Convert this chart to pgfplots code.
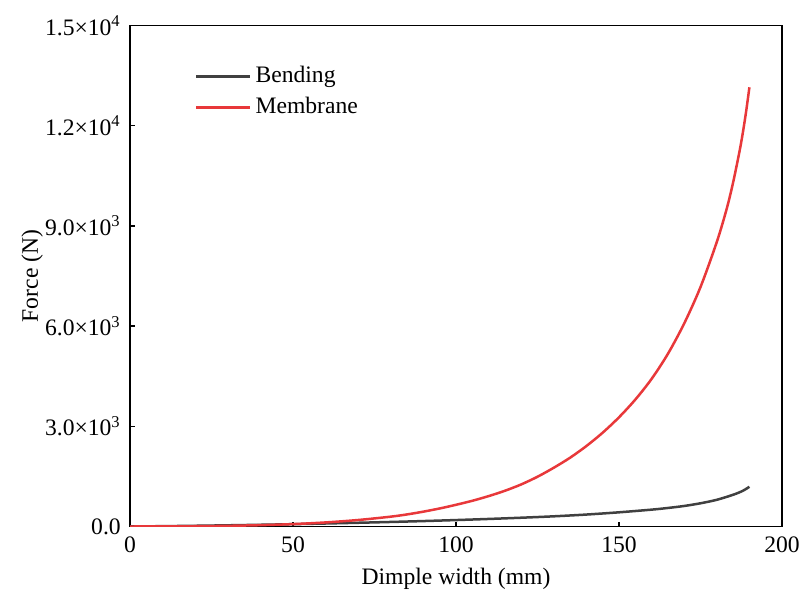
\documentclass[border=0pt]{standalone}
\usepackage{pgfplots}
\pgfplotsset{compat=1.18}
\usepackage{fontspec}
\setmainfont{Liberation Serif}
\definecolor{memred}{RGB}{232,56,58}
\definecolor{bendgray}{RGB}{64,64,64}
\begin{document}
\fontsize{11.8}{14}\selectfont
\begin{tikzpicture}
\useasboundingbox (-65pt,-33.75pt) rectangle (335.5pt,263.25pt);
\begin{axis}[
  at={(0,0)}, anchor=south west,
  scale only axis, width=326pt, height=250.5pt,
  xmin=0, xmax=200, ymin=0, ymax=15000,
  xtick={0,50,100,150,200},
  ytick={0,3000,6000,9000,12000,15000},
  yticklabels={0.0,3.0×10\textsuperscript{3},6.0×10\textsuperscript{3},9.0×10\textsuperscript{3},1.2×10\textsuperscript{4},1.5×10\textsuperscript{4}},
  scaled y ticks=false,
  tick pos=left, tick align=inside,
  major tick length=2.5pt,
  axis line style={line width=0.75pt},
  every tick/.style={line width=0.75pt,black},
  /pgf/number format/assume math mode=true,
  tick label style={font=\fontsize{11.8}{14}\selectfont},
  xticklabel style={yshift=-1pt},
  yticklabel style={xshift=-0.5pt},
  xlabel={Dimple width (mm)}, ylabel={Force (N)},
  label style={font=\fontsize{11.8}{14}\selectfont},
  xlabel style={yshift=0.5pt},
  ylabel style={yshift=-7pt},
  legend style={draw=none, fill=none, at={(rel axis cs:0.09,0.935)}, anchor=north west,
    font=\fontsize{11.8}{14}\selectfont, row sep=1.5pt,
    legend cell align=left},
  legend image code/.code={\draw[#1] (0cm,0cm) -- (27pt,0cm);},
]
\addplot[bendgray, line width=1.25pt, smooth] coordinates {
(0,0) (10,10) (20,22) (30,36) (40,52) (50,70) (60,90) (70,112) (80,136)
(90,163) (100,193) (110,226) (120,263) (130,305) (140,358) (150,425)
(160,505) (165,555) (170,615) (175,695) (180,800) (185,950) (188,1070) (190,1190)};
\addlegendentry{Bending}
\addplot[memred, line width=1.25pt, smooth] coordinates {
(0,0) (10,2) (20,8) (30,20) (40,40) (50,72) (60,122) (70,195) (80,295)
(85,362) (90,445) (95,540) (100,650) (105,770) (110,910) (115,1070)
(120,1260) (125,1490) (130,1760) (135,2060) (140,2410) (145,2810)
(150,3270) (155,3800) (160,4420) (165,5170) (170,6080) (175,7170)
(180,8520) (183,9500) (185,10300) (187,11250) (188,11800) (189,12430) (190,13150)};
\addlegendentry{Membrane}
\end{axis}
\end{tikzpicture}
\end{document}
